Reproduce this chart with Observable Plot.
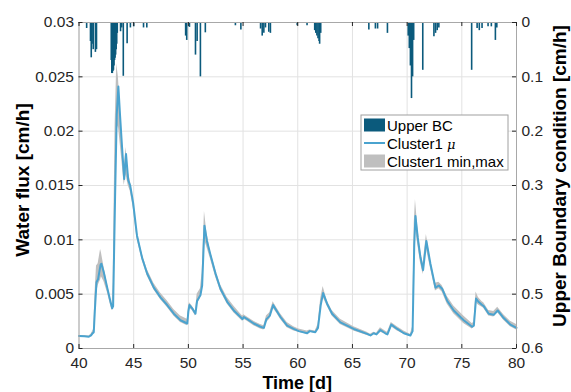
<!DOCTYPE html>
<html><head><meta charset="utf-8">
<script src="https://cdn.jsdelivr.net/npm/d3@7"></script>
<script src="https://cdn.jsdelivr.net/npm/@observablehq/plot@0.6"></script>
<style>body{margin:0;background:#fff}</style>
</head><body><div id="chart"></div>
<script>
// ---- data ----
const timeD = [40.0,40.5,40.9,41.1,41.2,41.35,41.45,41.6,41.75,41.97,42.05,42.27,42.58,42.88,43.03,43.12,43.3,43.45,43.6,43.75,43.9,44.13,44.3,44.5,44.68,44.95,45.3,45.78,46.23,46.84,47.45,48.06,48.67,49.28,49.9,50.0,50.1,50.35,50.65,50.8,51.1,51.26,51.47,51.7,52.0,52.48,52.93,53.55,54.15,54.76,54.95,55.07,55.38,55.98,56.59,56.9,57.14,57.44,57.75,58.05,58.42,59.03,59.63,60.09,60.86,61.1,61.6,61.85,62.1,62.32,62.69,63.14,63.9,65.12,66.34,66.65,66.95,67.2,67.56,68.0,68.2,68.55,69.1,69.7,70.3,70.5,70.65,70.76,70.97,71.2,71.46,71.76,72.13,72.59,72.9,73.2,73.66,74.26,75.17,75.94,76.1,76.3,76.52,76.86,77.0,77.46,77.92,78.28,78.83,79.44,80.0];
const muFlux = [0.00115,0.00112,0.00108,0.0012,0.00135,0.0015,0.0035,0.0061,0.0064,0.0077,0.0078,0.0070,0.0056,0.0043,0.0037,0.0039,0.0140,0.0215,0.0241,0.0215,0.0191,0.0156,0.0179,0.0155,0.0150,0.0134,0.0104,0.0083,0.0069,0.0056,0.0047,0.0040,0.0032,0.0026,0.0023,0.0034,0.0040,0.0037,0.0032,0.0044,0.0049,0.0058,0.0113,0.0099,0.0087,0.0069,0.0055,0.0043,0.0035,0.0029,0.0027,0.0029,0.0027,0.0023,0.0020,0.0019,0.0027,0.0030,0.0040,0.0035,0.0029,0.0021,0.0018,0.0016,0.0014,0.0016,0.0015,0.0019,0.0040,0.0051,0.0041,0.0032,0.0024,0.0018,0.00135,0.0012,0.0014,0.0013,0.0017,0.0014,0.0013,0.0022,0.0018,0.0014,0.0012,0.0016,0.0095,0.0122,0.0102,0.0085,0.0072,0.0099,0.0078,0.0056,0.0058,0.0055,0.0044,0.0035,0.0026,0.0020,0.0021,0.0046,0.0043,0.0040,0.0039,0.0032,0.0031,0.0035,0.0028,0.0022,0.0019];
const minFlux = [0.0011,0.00108,0.00104,0.0011,0.0012,0.0013,0.0025,0.0050,0.0058,0.0063,0.0066,0.0062,0.0052,0.0040,0.0035,0.0036,0.0100,0.0200,0.0205,0.0190,0.0175,0.0150,0.0160,0.0150,0.0145,0.0130,0.0101,0.0081,0.0067,0.0054,0.0045,0.0038,0.0030,0.0024,0.0021,0.0030,0.0037,0.0035,0.0030,0.0040,0.0046,0.0052,0.0100,0.0093,0.0083,0.0066,0.0053,0.0041,0.0033,0.0027,0.0025,0.0027,0.0025,0.0021,0.0018,0.0017,0.0024,0.0027,0.0037,0.0033,0.0027,0.0019,0.0016,0.0015,0.0013,0.0015,0.0014,0.0017,0.0035,0.0047,0.0039,0.0030,0.0022,0.0016,0.0012,0.0011,0.0013,0.0012,0.0015,0.0013,0.0012,0.0020,0.0016,0.0013,0.0011,0.0014,0.0080,0.0110,0.0096,0.0080,0.0068,0.0092,0.0074,0.0053,0.0055,0.0052,0.0041,0.0032,0.0023,0.0018,0.0019,0.0042,0.0040,0.0038,0.0037,0.0030,0.0029,0.0033,0.0026,0.0020,0.0017];
const maxFlux = [0.0012,0.00118,0.00114,0.0013,0.0015,0.0018,0.0048,0.0076,0.0078,0.0091,0.0088,0.0076,0.0060,0.0046,0.0040,0.0060,0.0205,0.0262,0.0250,0.0225,0.0200,0.0165,0.0185,0.0162,0.0155,0.0138,0.0108,0.0087,0.0073,0.0060,0.0051,0.0044,0.0036,0.0030,0.0027,0.0038,0.0042,0.0039,0.0034,0.0050,0.0055,0.0070,0.0126,0.0106,0.0090,0.0073,0.0059,0.0047,0.0039,0.0032,0.0030,0.0031,0.0029,0.0025,0.0022,0.0021,0.0030,0.0033,0.0043,0.0038,0.0032,0.0024,0.0020,0.0018,0.0016,0.0017,0.0016,0.0022,0.0046,0.0057,0.0044,0.0035,0.0027,0.0020,0.0015,0.0013,0.0015,0.0014,0.0019,0.0016,0.0015,0.0024,0.0020,0.0016,0.0013,0.0020,0.0115,0.0137,0.0112,0.0092,0.0078,0.0105,0.0082,0.0060,0.0061,0.0058,0.0048,0.0039,0.0030,0.0023,0.0024,0.0052,0.0047,0.0043,0.0042,0.0035,0.0034,0.0038,0.0031,0.0025,0.0022];

// Upper boundary condition (right axis, cm/h)
const bcTime  = [40.7,41.05,41.12,41.2,41.3,41.5,41.6,42.95,43.0,43.05,43.1,43.15,43.2,43.25,43.3,43.35,43.4,43.45,43.5,43.8,43.9,44.05,44.4,44.7,45.0,45.9,46.2,49.75,49.85,50.1,50.65,50.8,51.1,51.55,54.3,54.8,56.6,56.75,56.9,57.05,57.35,57.5,59.95,60.85,61.55,61.65,61.75,61.85,61.95,62.0,62.1,66.5,67.1,67.3,68.2,70.1,70.2,70.3,70.4,70.5,70.6,71.43,72.45,72.6,72.75,72.9,75.9,76.4,76.6,76.85,77.4,77.7,78.07,78.2];
const bcValue = [0.011,0.035,0.065,0.04,0.05,0.055,0.05,0.07,0.094,0.094,0.09,0.088,0.08,0.07,0.066,0.06,0.05,0.04,0.02,0.017,0.01,0.099,0.039,0.01,0.008,0.01,0.01,0.025,0.033,0.009,0.06,0.035,0.1,0.019,0.006,0.014,0.012,0.025,0.02,0.01,0.018,0.02,0.006,0.006,0.015,0.02,0.025,0.03,0.035,0.04,0.02,0.014,0.012,0.012,0.02,0.025,0.048,0.08,0.14,0.1,0.033,0.088,0.026,0.02,0.015,0.01,0.088,0.011,0.015,0.011,0.008,0.008,0.033,0.01];

const xTickValues = [40,45,50,55,60,65,70,75,80];
const xTickLabels = ["40","45","50","55","60","65","70","75","80"];
const yTickValues = [0,0.005,0.01,0.015,0.02,0.025,0.03];
const yTickLabels = ["0","0.005","0.01","0.015","0.02","0.025","0.03"];
const rTickValues = [0,0.1,0.2,0.3,0.4,0.5,0.6];
const rTickLabels = ["0","0.1","0.2","0.3","0.4","0.5","0.6"];

// ---- build ----
const series = timeD.map((t,i)=>({t, mu: muFlux[i], lo: minFlux[i], hi: maxFlux[i]}));
const rightToLeft = d3.scaleLinear().domain([0, 0.6]).range([0.03, 0]);
const bc = bcTime.map((t,i)=>({t, y1: rightToLeft(0), y2: rightToLeft(bcValue[i])}));
const rTickPos = rTickValues.map(v => rightToLeft(v));

const W = 571, H = 392, mL = 78.5, mR = 55, mT = 22, mB = 44;
const pw = W - mL - mR, ph = H - mT - mB, tk = 4;
const ink = "#262626", gridC = "#e2e2e2";
const font = "'Liberation Sans', Arial, Helvetica, sans-serif";

const chart = Plot.plot({
  width: W, height: H,
  marginLeft: mL, marginRight: mR, marginTop: mT, marginBottom: mB,
  x: {domain: [40, 80], label: null},
  y: {domain: [0, 0.03], label: null},
  style: {fontFamily: font, fontSize: "15.5px", color: ink, background: "#fff", overflow: "visible"},
  marks: [
    Plot.gridX(xTickValues, {stroke: gridC, strokeOpacity: 1}),
    Plot.gridY(yTickValues, {stroke: gridC, strokeOpacity: 1}),
    Plot.areaY(series, {x: "t", y1: "lo", y2: "hi", fill: "#bfbfbf"}),
    Plot.line(series, {x: "t", y: "mu", stroke: "#4aa3cf", strokeWidth: 2}),
    Plot.ruleX(bc, {x: "t", y1: "y1", y2: "y2", stroke: "#0b5a7c", strokeWidth: 1.6}),
    Plot.frame({stroke: "#a8a8a8"}),
    Plot.tickX(xTickValues, {x: d => d, insetTop: ph - tk, stroke: ink}),
    Plot.tickX(xTickValues, {x: d => d, insetBottom: ph - tk, stroke: ink}),
    Plot.tickY(yTickValues, {y: d => d, insetRight: pw - tk, stroke: ink}),
    Plot.tickY(rTickPos, {y: d => d, insetLeft: pw - tk, stroke: ink}),
    Plot.axisX(xTickValues, {tickSize: 0, tickPadding: 8, fill: ink, label: null,
      tickFormat: d => xTickLabels[xTickValues.indexOf(d)]}),
    Plot.axisY(yTickValues, {anchor: "left", tickSize: 0, tickPadding: 5, fill: ink, label: null,
      tickFormat: d => yTickLabels[yTickValues.indexOf(d)]}),
    Plot.axisY(rTickPos, {anchor: "right", tickSize: 0, tickPadding: 5, fill: ink, label: null,
      tickFormat: d => rTickLabels[rTickPos.indexOf(d)]})
  ]
});
document.getElementById("chart").appendChild(chart);

// axis titles and legend
const svg = d3.select(chart);
const lab = svg.append("g").attr("font-family", font).attr("font-weight", "bold").attr("fill", "#000");
lab.append("text").text("Time [d]").attr("x", mL + pw / 2).attr("y", 389)
  .attr("text-anchor", "middle").attr("font-size", 18);
lab.append("text").text("Water flux [cm/h]").attr("transform", "translate(29,180) rotate(-90)")
  .attr("text-anchor", "middle").attr("font-size", 19);
lab.append("text").text("Upper Boundary condition [cm/h]").attr("transform", "translate(566,176) rotate(-90)")
  .attr("text-anchor", "middle").attr("font-size", 19);

const lg = svg.append("g").attr("font-family", font).attr("font-size", 15).attr("fill", "#000").attr("text-anchor", "start");
lg.append("rect").attr("x", 361).attr("y", 115).attr("width", 147).attr("height", 55)
  .attr("fill", "#fff").attr("stroke", "#a0a0a0");
lg.append("rect").attr("x", 364).attr("y", 118.5).attr("width", 21).attr("height", 13).attr("fill", "#0b5a7c");
lg.append("line").attr("x1", 364).attr("x2", 385).attr("y1", 143).attr("y2", 143).attr("stroke", "#4aa3cf").attr("stroke-width", 2);
lg.append("rect").attr("x", 364).attr("y", 154.5).attr("width", 21).attr("height", 13).attr("fill", "#bfbfbf");
lg.append("text").attr("x", 387).attr("y", 130.5).text("Upper BC");
const t2 = lg.append("text").attr("x", 387).attr("y", 148.5);
t2.append("tspan").text("Cluster1 ");
t2.append("tspan").attr("font-style", "italic").attr("font-family", "'DejaVu Serif', serif").attr("font-size", 13).text("μ");
lg.append("text").attr("x", 387).attr("y", 166.5).text("Cluster1 min,max");
</script>
</body></html>
